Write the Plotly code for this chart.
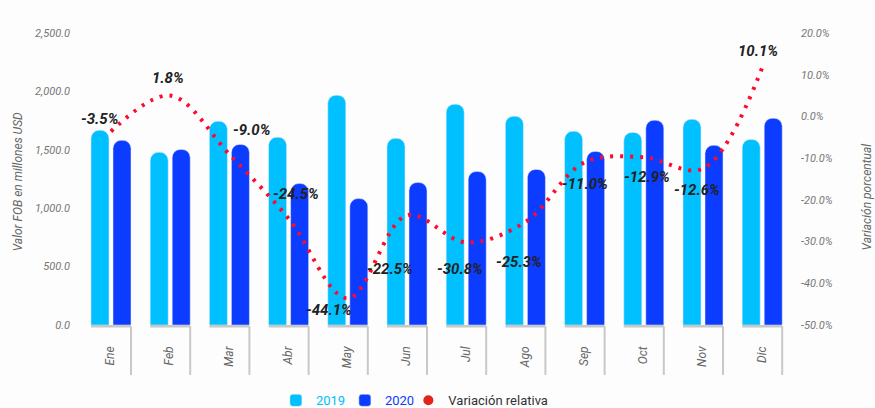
import plotly.graph_objects as go

meses = ["Ene", "Feb", "Mar", "Abr", "May", "Jun", "Jul", "Ago", "Sep", "Oct", "Nov", "Dic"]
valor_2019 = [1667, 1478, 1744, 1607, 1967, 1598, 1890, 1787, 1658, 1649, 1761, 1589]
valor_2020 = [1581, 1503, 1546, 1211, 1082, 1220, 1314, 1332, 1486, 1753, 1538, 1770]
variacion = [-3.6, 5.0, -9.1, -24.5, -43.6, -23.7, -30.2, -25.3, -11.0, -9.8, -12.5, 11.7]
variacion_txt = ["-3.5%", "1.8%", "-9.0%", "-24.5%", "-44.1%", "-22.5%", "-30.8%",
                 "-25.3%", "-11.0%", "-12.9%", "-12.6%", "10.1%"]

# label offsets (px) relative to each point
lab_dx = [-11, -2, 22, 7, -19, -17, -6, -6, 0, 3, -6, -4]
lab_dy = [12, 18, 24, 25, -12, -54, -27, -40, -22, -20, -21, 17]

C2019 = "#00C0FF"
C2020 = "#0C3CFF"
CRED = "#FF0A2A"
FONT = "Roboto"

x = list(range(len(meses)))
bw = 0.304
half = 0.338

fig = go.Figure()
fig.add_trace(go.Bar(
    x=x, y=valor_2019, width=bw, offset=-half, marker=dict(color=C2019, cornerradius=8),
    name='<span style="color:%s">2019</span>' % C2019, legend="legend"))
fig.add_trace(go.Bar(
    x=x, y=valor_2020, width=bw, offset=half - bw, marker=dict(color=C2020, cornerradius=8),
    name='<span style="color:%s">2020</span>' % C2020, legend="legend"))
fig.add_trace(go.Scatter(
    x=x, y=variacion, yaxis="y2", mode="lines", showlegend=False,
    line=dict(color=CRED, width=4, dash="3px,7px", shape="spline", smoothing=1)))
fig.add_trace(go.Scatter(
    x=[None], y=[None], yaxis="y2", mode="markers",
    marker=dict(color="#E0241B", size=10), name="Variación relativa", legend="legend2"))

for i, (v, t) in enumerate(zip(variacion, variacion_txt)):
    fig.add_annotation(x=i, y=v, yref="y2", text="<b><i>%s</i></b>" % t, showarrow=False,
                       xshift=lab_dx[i], yshift=lab_dy[i],
                       font=dict(family=FONT, size=15, color="#222222"))

shapes = []
for i in x:
    shapes.append(dict(type="line", xref="x", yref="paper", x0=i - half, x1=i + half,
                       y0=-0.004, y1=-0.004, line=dict(color="#C8C8C8", width=2.5)))
    shapes.append(dict(type="line", xref="x", yref="paper", x0=i + half, x1=i + half,
                       y0=-0.004, y1=-0.171, line=dict(color="#C8C8C8", width=2)))

fig.add_annotation(xref="paper", yref="paper", x=-0.078, y=0.2466, xanchor="center", yanchor="bottom",
                   text="<i>Valor FOB en millones USD</i>", textangle=-90, showarrow=False,
                   font=dict(family=FONT, size=12, color="#666666"))
fig.add_annotation(xref="paper", yref="paper", x=1.1, y=0.2466, xanchor="center", yanchor="bottom",
                   text="<i>Variación porcentual</i>", textangle=-90, showarrow=False,
                   font=dict(family=FONT, size=12, color="#666666"))

legend_style = dict(orientation="h", yanchor="middle", y=-0.258, xanchor="left",
                    itemwidth=30, font=dict(family=FONT, size=13, color="#333333"),
                    bgcolor="rgba(0,0,0,0)")

fig.update_layout(
    width=875, height=408,
    margin=dict(l=75, r=80, t=33, b=83, autoexpand=False),
    paper_bgcolor="#FDFDFD", plot_bgcolor="#FDFDFD",
    barmode="overlay",
    font=dict(family=FONT, color="#333333"),
    shapes=shapes,
    xaxis=dict(range=[-0.608, 11.554], tickmode="array", tickvals=[i - 0.01 for i in x],
               ticktext=["<i>%s</i>" % m for m in meses], tickangle=-90, showgrid=False,
               zeroline=False, showline=False, ticks="", ticklabelstandoff=18,
               tickfont=dict(family=FONT, size=12, color="#666666")),
    yaxis=dict(range=[0, 2500], tickmode="array", tickvals=[0, 500, 1000, 1500, 2000, 2500],
               ticktext=["<i>%s</i>" % s for s in ["0.0", "500.0", "1,000.0", "1,500.0", "2,000.0", "2,500.0"]],
               showgrid=False, zeroline=False, showline=False, ticks="", ticklabelstandoff=4,
               tickfont=dict(family=FONT, size=11, color="#777777")),
    yaxis2=dict(range=[-50, 20], overlaying="y", side="right", tickmode="array",
                tickvals=[-50, -40, -30, -20, -10, 0, 10, 20],
                ticktext=["<i>%s</i>" % s for s in ["-50.0%", "-40.0%", "-30.0%", "-20.0%", "-10.0%", "0.0%", "10.0%", "20.0%"]],
                showgrid=False, zeroline=False, showline=False, ticks="", ticklabelstandoff=5,
                tickfont=dict(family=FONT, size=11, color="#777777")),
    legend=dict(legend_style, x=0.279, entrywidth=24),
    legend2=dict(legend_style, x=0.463),
    hovermode=False,
)

fig.write_html("out.html", config={"displayModeBar": False},
               post_script="document.body.style.margin='0';document.body.style.overflow='hidden';")
